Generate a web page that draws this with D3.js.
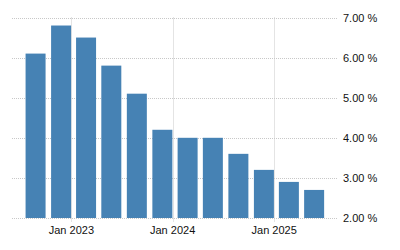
<!DOCTYPE html>
<html>
<head>
<meta charset="utf-8">
<script src="https://cdn.jsdelivr.net/npm/d3@7"></script>
<style>
  body { margin: 0; background: #fff; }
  svg text { font-family: "Liberation Sans", Arial, sans-serif; font-size: 11px; fill: #111; }
</style>
</head>
<body>
<svg width="400" height="250"></svg>
<script>
// quarter-end dates and values (%)
const quarters = ["2022-09-30", "2022-12-31", "2023-03-31", "2023-06-30", "2023-09-30", "2023-12-31",
                  "2024-03-31", "2024-06-30", "2024-09-30", "2024-12-31", "2025-03-31", "2025-06-30"];
const values = [6.1, 6.8, 6.5, 5.8, 5.1, 4.2, 4.0, 4.0, 3.6, 3.2, 2.9, 2.7];
const yTicks = [2, 3, 4, 5, 6, 7];
const xTicks = ["2023-01-01", "2024-01-01", "2025-01-01"];

const parse = d3.timeParse("%Y-%m-%d");
const data = quarters.map((q, i) => ({date: parse(q), value: values[i]}));

const svg = d3.select("svg");
const plotLeft = 12, plotRight = 338, plotTop = 17.5, plotBottom = 218;

const x = d3.scaleTime()
  .domain([parse("2022-06-01"), parse("2025-08-19")])
  .range([plotLeft, plotRight]);
const y = d3.scaleLinear().domain([2, 7]).range([plotBottom, plotTop]);

const barW = 20;

// horizontal grid
svg.append("g").selectAll("line").data(yTicks).join("line")
  .attr("x1", plotLeft).attr("x2", plotRight)
  .attr("y1", d => Math.round(y(d)) + 0.5).attr("y2", d => Math.round(y(d)) + 0.5)
  .attr("stroke", "#c8c8c8").attr("stroke-dasharray", "1,1");

// vertical grid at years
svg.append("g").selectAll("line").data(xTicks.map(parse)).join("line")
  .attr("x1", d => Math.round(x(d)) + 0.5).attr("x2", d => Math.round(x(d)) + 0.5)
  .attr("y1", plotTop).attr("y2", plotBottom + 4)
  .attr("stroke", "#c8c8c8").attr("stroke-dasharray", "1,1");

// bars: right edge at quarter end
svg.append("g").selectAll("rect").data(data).join("rect")
  .attr("x", d => x(d.date) - barW)
  .attr("width", barW)
  .attr("y", d => y(d.value))
  .attr("height", d => plotBottom - y(d.value))
  .attr("fill", "#4682b4");

// y labels
svg.append("g").selectAll("text").data(yTicks).join("text")
  .attr("x", 343).attr("y", d => y(d) + 4)
  .text(d => d3.format(".2f")(d) + " %");

// x labels
const fmt = d3.timeFormat("%b %Y");
svg.append("g").selectAll("text").data(xTicks.map(parse)).join("text")
  .attr("x", d => x(d)).attr("y", 234)
  .attr("text-anchor", "middle")
  .text(d => fmt(d));
</script>
</body>
</html>
